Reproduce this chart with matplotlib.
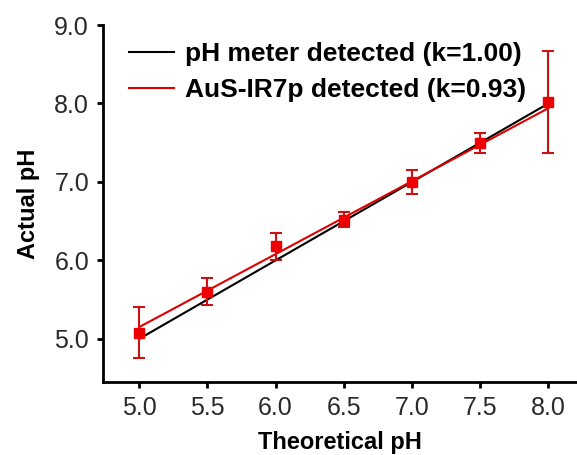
import numpy as np
import matplotlib
matplotlib.use("Agg")
import matplotlib.pyplot as plt

plt.rcParams['font.family'] = ['Liberation Sans', 'DejaVu Sans']

# theoretical pH and measured values (AuS-IR7p probe)
theo_ph = np.array([5.0, 5.5, 6.0, 6.5, 7.0, 7.5, 8.0])
actual_ph = np.array([5.08, 5.60, 6.18, 6.52, 7.00, 7.50, 8.02])
actual_err = np.array([0.33, 0.17, 0.17, 0.10, 0.15, 0.13, 0.65])

# linear fits: slope / intercept
fit_names = ["pH meter detected (k=1.00)", "AuS-IR7p detected (k=0.93)"]
fit_k = [1.00, 0.93]
fit_b = [0.00, 0.50]
fit_colors = ["black", "#e00000"]

fig = plt.figure(figsize=(5.77, 4.55), dpi=100)
ax = fig.add_axes([0.1785, 0.1604, 0.8215, 0.7846])

for name, k, b, c in zip(fit_names, fit_k, fit_b, fit_colors):
    xx = np.array([theo_ph[0], theo_ph[-1]])
    ax.plot(xx, k*xx + b, color=c, lw=1.5, label=name, zorder=2)

ax.errorbar(theo_ph, actual_ph, yerr=actual_err, fmt='s', color='#ee0000',
            ms=6.5, ecolor='#cc1111', elinewidth=1.5, capsize=4, capthick=1.5,
            zorder=3)

ax.set_xlim(4.735, 8.21)
ax.set_ylim(4.45, 9.0)
ax.set_xticks(theo_ph)
ax.set_yticks([5, 6, 7, 8, 9])
ax.xaxis.set_major_formatter(matplotlib.ticker.FormatStrFormatter('%.1f'))
ax.yaxis.set_major_formatter(matplotlib.ticker.FormatStrFormatter('%.1f'))
ax.tick_params(labelsize=18, color='black', labelcolor='#2a2a2a', width=2,
               length=4, direction='out')
ax.tick_params(axis='x', pad=6)
ax.tick_params(axis='y', pad=6)
for s in ['top', 'right']:
    ax.spines[s].set_visible(False)
for s in ['left', 'bottom']:
    ax.spines[s].set_linewidth(2)

ax.set_xlabel("Theoretical pH", fontsize=17, fontweight='bold', labelpad=8)
ax.set_ylabel("Actual pH", fontsize=17, fontweight='bold', labelpad=10)

leg = ax.legend(loc='upper left', frameon=False, prop={'size': 19, 'weight': 'bold'},
                handlelength=1.7, handletextpad=0.4, labelspacing=0.45,
                bbox_to_anchor=(0.005, 1.018))

fig.savefig("out.png", dpi=100)
